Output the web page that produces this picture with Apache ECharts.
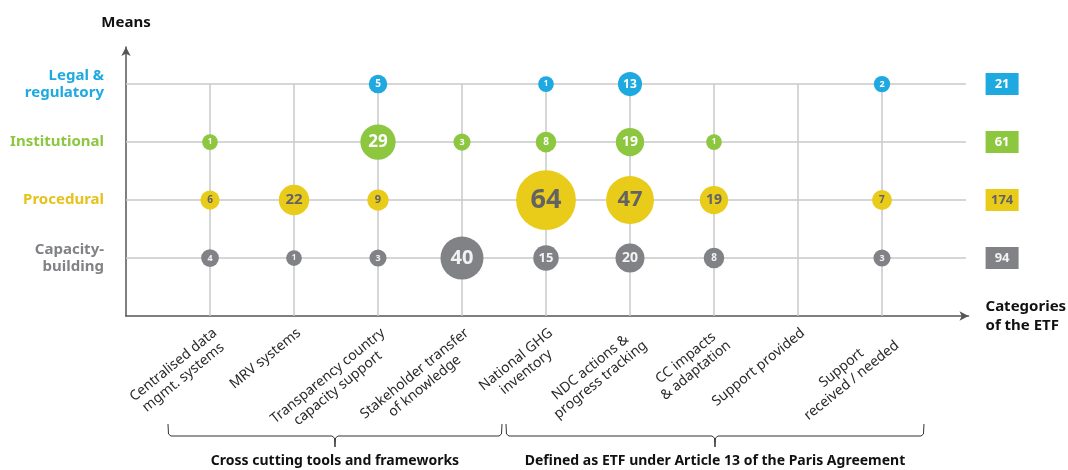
<!DOCTYPE html>
<html>
<head>
<meta charset="utf-8">
<script src="https://cdn.jsdelivr.net/npm/echarts@6/dist/echarts.min.js"></script>
<style>
  html, body { margin: 0; padding: 0; background: #fff; }
  #main { width: 1068px; height: 470px; }
</style>
</head>
<body>
<div id="main"></div>
<script>
// categories of the ETF (x) and means (y, bottom to top)
var categories = [
  'Centralised data\nmgmt. systems',
  'MRV systems',
  'Transparency country\ncapacity support',
  'Stakeholder transfer\nof knowledge',
  'National GHG\ninventory',
  'NDC actions &\nprogress tracking',
  'CC impacts\n& adaptation',
  'Support provided',
  'Support\nreceived / needed'
];
var means = ['Capacity-\nbuilding', 'Procedural', 'Institutional', 'Legal &\nregulatory'];

// counts per category, one array per mean (null = no bubble)
var capacityValues      = [4, 1, 3, 40, 15, 20, 8, null, 3];
var proceduralValues    = [6, 22, 9, null, 64, 47, 19, null, 7];
var institutionalValues = [1, null, 29, 3, 8, 19, 1, null, null];
var legalValues         = [null, null, 5, null, 1, 13, null, null, 2];

var groupNames = ['Cross cutting tools and frameworks', 'Defined as ETF under Article 13 of the Paris Agreement'];
var groupRanges = [[0, 3], [4, 8]];

var colors = ['#818285', '#e9cb1a', '#8dc63f', '#1ea9e1'];
var textColors = ['#f2f2f2', '#636365', '#ffffff', '#ffffff'];
var rows = [capacityValues, proceduralValues, institutionalValues, legalValues];

var FONT = '"Noto Sans", "Open Sans", sans-serif';
var TOTAL_X = 9.43;

function toPoints(values, rowIdx) {
  var pts = [];
  values.forEach(function (v, i) {
    if (v != null) pts.push({ value: [i, rowIdx, v], label: { fontSize: Math.round(8 + 0.3 * v) } });
  });
  return pts;
}

function sum(arr) {
  return arr.reduce(function (a, b) { return a + (b || 0); }, 0);
}

var bubbleSeries = rows.map(function (values, r) {
  return {
    type: 'scatter',
    z: 5,
    data: toPoints(values, r),
    symbolSize: function (d) { return 15 + 0.7 * d[2]; },
    itemStyle: { color: colors[r], opacity: 1 },
    emphasis: { disabled: true },
    label: {
      show: true,
      position: 'inside',
      fontFamily: FONT,
      fontWeight: 'bold',
      color: textColors[r],
      formatter: function (p) { return p.value[2]; }
    }
  };
});

// light grid lines: horizontal per mean, vertical per category up to top row
var gridLines = [];
means.forEach(function (m, r) {
  gridLines.push([{ coord: [-1, r] }, { coord: [9, r] }]);
});
categories.forEach(function (c, i) {
  gridLines.push([{ coord: [i, -1] }, { coord: [i, means.length - 1] }]);
});

var totalsSeries = {
  type: 'scatter',
  z: 5,
  clip: false,
  symbol: 'rect',
  symbolSize: [33, 22],
  emphasis: { disabled: true },
  data: rows.map(function (values, r) {
    return {
      value: [TOTAL_X, r, sum(values)],
      itemStyle: { color: colors[r], opacity: 1 },
      label: { color: textColors[r] }
    };
  }),
  label: {
    show: true,
    position: 'inside',
    fontFamily: FONT,
    fontWeight: 'bold',
    fontSize: 13,
    formatter: function (p) { return p.value[2]; }
  }
};

var chart = echarts.init(document.getElementById('main'));

var option = {
  animation: false,
  backgroundColor: '#fff',
  grid: { left: 126, top: 47, width: 842.5, height: 269, outerBoundsMode: 'none', containLabel: false },
  xAxis: {
    type: 'value',
    min: -1,
    max: 9.03,
    interval: 1,
    name: 'Categories\nof the ETF',
    nameLocation: 'end',
    nameGap: 17,
    nameTextStyle: {
      fontFamily: FONT, fontWeight: 'bold', fontSize: 15, color: '#111',
      align: 'left', verticalAlign: 'middle', lineHeight: 19
    },
    axisLine: {
      onZero: false,
      lineStyle: { color: '#555', width: 1.5 },
      symbol: ['none', 'arrow'],
      symbolSize: [7, 9]
    },
    axisTick: { show: false },
    splitLine: { show: false },
    axisLabel: {
      rotate: 39,
      margin: 9,
      align: 'right',
      verticalAlign: 'top',
      formatter: function (v) {
        var c = categories[v];
        if (!c) return '';
        return c.split('\n').map(function (l) { return '{c|' + l + '}'; }).join('\n');
      },
      rich: {
        c: { align: 'center', fontFamily: FONT, fontSize: 14, color: '#2a2a2a', lineHeight: 16 }
      }
    }
  },
  yAxis: {
    type: 'value',
    min: -1,
    max: 3.64,
    interval: 1,
    name: 'Means',
    nameLocation: 'end',
    nameGap: 17,
    nameTextStyle: { fontFamily: FONT, fontWeight: 'bold', fontSize: 15, color: '#111' },
    axisLine: {
      onZero: false,
      lineStyle: { color: '#555', width: 1.5 },
      symbol: ['none', 'arrow'],
      symbolSize: [7, 9]
    },
    axisTick: { show: false },
    splitLine: { show: false },
    axisLabel: {
      margin: 22,
      formatter: function (v) {
        var m = means[v];
        if (!m) return '';
        return m.split('\n').map(function (l) { return '{m' + v + '|' + l + '}'; }).join('\n');
      },
      rich: {
        m0: { align: 'right', fontFamily: FONT, fontWeight: 'bold', fontSize: 15, lineHeight: 17, color: colors[0] },
        m1: { align: 'right', fontFamily: FONT, fontWeight: 'bold', fontSize: 15, lineHeight: 17, color: '#e6c21a' },
        m2: { align: 'right', fontFamily: FONT, fontWeight: 'bold', fontSize: 15, lineHeight: 17, color: colors[2] },
        m3: { align: 'right', fontFamily: FONT, fontWeight: 'bold', fontSize: 15, lineHeight: 17, color: colors[3] }
      }
    }
  },
  series: [{
    type: 'line',
    z: 1,
    data: [],
    silent: true,
    markLine: {
      silent: true,
      symbol: 'none',
      label: { show: false },
      lineStyle: { color: '#c9c9c9', width: 1.5, type: 'solid' },
      data: gridLines
    }
  }].concat(bubbleSeries, [totalsSeries])
};

chart.setOption(option);

// curly braces under the category labels, one per group
var braceY = 436;
var graphics = [];
groupRanges.forEach(function (g, k) {
  var x0 = chart.convertToPixel({ xAxisIndex: 0 }, g[0] - 0.5) + (k === 0 ? 0 : 2);
  var x1 = chart.convertToPixel({ xAxisIndex: 0 }, g[1] + 0.5) - (k === 0 ? 2 : 0);
  var xc = (x0 + x1) / 2;
  graphics.push({
    type: 'polyline',
    shape: {
      points: [
        [x0, braceY - 12], [x0 + 0.5, braceY - 2], [x0 + 3, braceY],
        [xc - 3, braceY], [xc - 0.5, braceY + 2], [xc, braceY + 11],
        [xc + 0.5, braceY + 2], [xc + 3, braceY],
        [x1 - 3, braceY], [x1 - 0.5, braceY - 2], [x1, braceY - 12]
      ]
    },
    style: { stroke: '#333', lineWidth: 1, fill: null }
  });
  graphics.push({
    type: 'text',
    x: xc,
    y: 461,
    style: {
      text: groupNames[k],
      fontFamily: FONT,
      fontWeight: 'bold',
      fontSize: 14,
      fill: '#111',
      align: 'center',
      verticalAlign: 'middle'
    }
  });
});
chart.setOption({ graphic: graphics });
</script>
</body>
</html>
